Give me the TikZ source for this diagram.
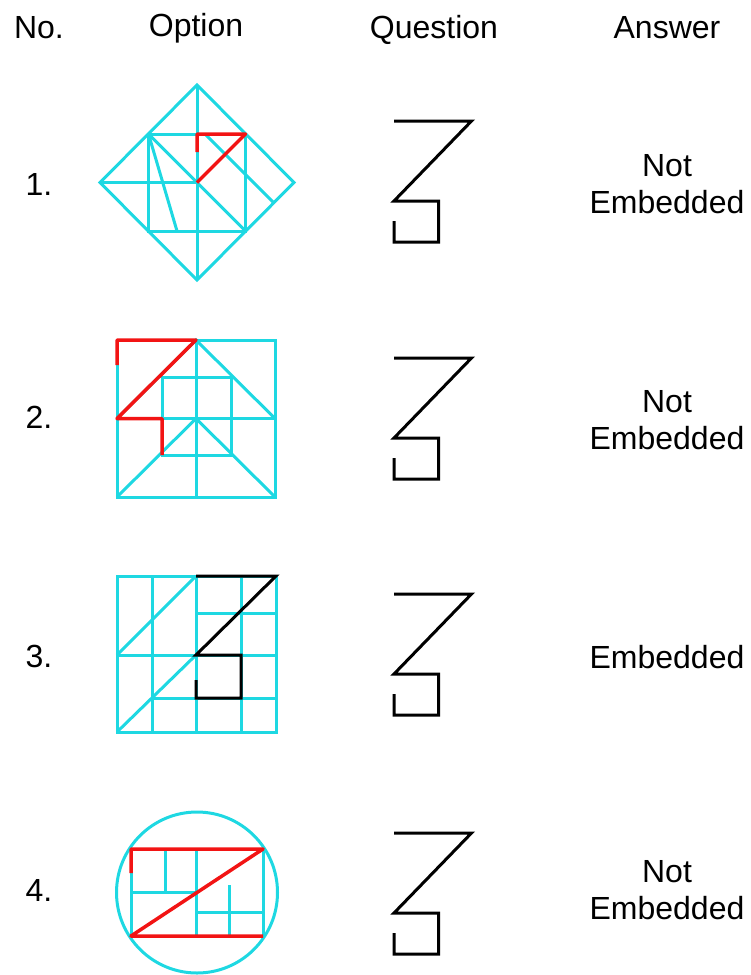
\documentclass[tikz,border=0pt]{standalone}
\usepackage{fontspec}
\setmainfont{Liberation Sans}
\usepackage{tikz}
\usetikzlibrary{positioning}
\definecolor{optcyan}{HTML}{1ED8E2}
\definecolor{optred}{HTML}{F21414}

\begin{document}
\begin{tikzpicture}[x=1pt, y=-1pt,
  hdr/.style={font=\fontsize{32}{36}\selectfont, anchor=base},
  rowlbl/.style={font=\fontsize{32}{36}\selectfont},
  anstxt/.style={font=\fontsize{32}{37}\selectfont, align=center},
  cyanln/.style={optcyan, line width=3pt},
  redln/.style={optred, line width=3.5pt, line join=round},
  blkln/.style={black, line width=3pt, line join=miter}
]
\useasboundingbox (0,0) rectangle (751,975);

% header row
\node[hdr] (hno) at (39,38) {No.};
\node[hdr] (hopt) at (196,36) {Option};
\node[hdr] (hques) at (434,38) {Question};
\node[hdr] (hans) at (667,38) {Answer};

% row numbers
\node[rowlbl] (no1) at (39,184) {1.};
\node[rowlbl] (no2) at (39,417) {2.};
\node[rowlbl] (no3) at (39,656) {3.};
\node[rowlbl] (no4) at (39,890) {4.};

% answers
\node[anstxt] (ans1) at (667,184) {Not\\Embedded};
\node[anstxt] (ans2) at (667,420) {Not\\Embedded};
\node[anstxt] (ans3) at (667,657) {Embedded};
\node[anstxt] (ans4) at (667,890) {Not\\Embedded};

% option 1: diamond
\draw[cyanln] (197,85) -- (294,182.5) -- (197,280) -- (100,182.5) -- cycle;
\draw[cyanln] (148.5,134) rectangle (245.5,231);
\draw[cyanln] (197,85) -- (197,280);
\draw[cyanln] (100,182.5) -- (197,182.5);
\draw[cyanln] (148.5,134) -- (245.5,231);
\draw[cyanln] (148.5,134) -- (177,231);
\draw[cyanln] (205,134) -- (273.75,202.75);
\draw[redln] (197,152) -- (197,134) -- (245.5,134) -- (197,182.5);

% option 2: square with inner square
\draw[cyanln] (117,340) rectangle (275,497);
\draw[cyanln] (162,377) rectangle (231,455);
\draw[cyanln] (196,340) -- (196,497);
\draw[cyanln] (117,418.5) -- (275,418.5);
\draw[cyanln] (117,418.5) -- (196,340) -- (275,418.5);
\draw[cyanln] (117,497) -- (196,418.5) -- (275,497);
\draw[redln] (117,365) -- (117,340) -- (196,340) -- (117,418.5) -- (162,418.5) -- (162,455);

% option 3: grid
\draw[cyanln] (117,576) rectangle (276,732);
\foreach \gx in {152,196,241}
  \draw[cyanln] (\gx,576) -- (\gx,732);
\draw[cyanln] (117,655) -- (276,655);
\draw[cyanln] (196,613) -- (276,613);
\draw[cyanln] (152,698) -- (276,698);
\draw[cyanln] (117,655) -- (196,576);
\draw[cyanln] (117,732) -- (196,655);
\draw[blkln] (196,680) -- (196,698) -- (241,698) -- (241,655) -- (196,655) -- (276,576) -- (196,576);

% option 4: circle
\draw[cyanln] (197,892.5) circle[radius=80.5];
\draw[cyanln] (131,849) rectangle (263,936);
\draw[cyanln] (165,849) -- (165,892);
\draw[cyanln] (131,892) -- (196,892);
\draw[cyanln] (196,849) -- (196,936);
\draw[cyanln] (196,912) -- (263,912);
\draw[cyanln] (229,885) -- (229,936);
\draw[redln] (131,873) -- (131,849) -- (263,849) -- (131,936) -- (263,936);

% question figures
\foreach \qt in {121,358,594,833}
  \draw[blkln] (394,{\qt+100}) -- (394,{\qt+121}) -- (438.5,{\qt+121})
    -- (438.5,{\qt+80}) -- (394,{\qt+80}) -- (471.5,\qt) -- (394,\qt);
\end{tikzpicture}
\end{document}
